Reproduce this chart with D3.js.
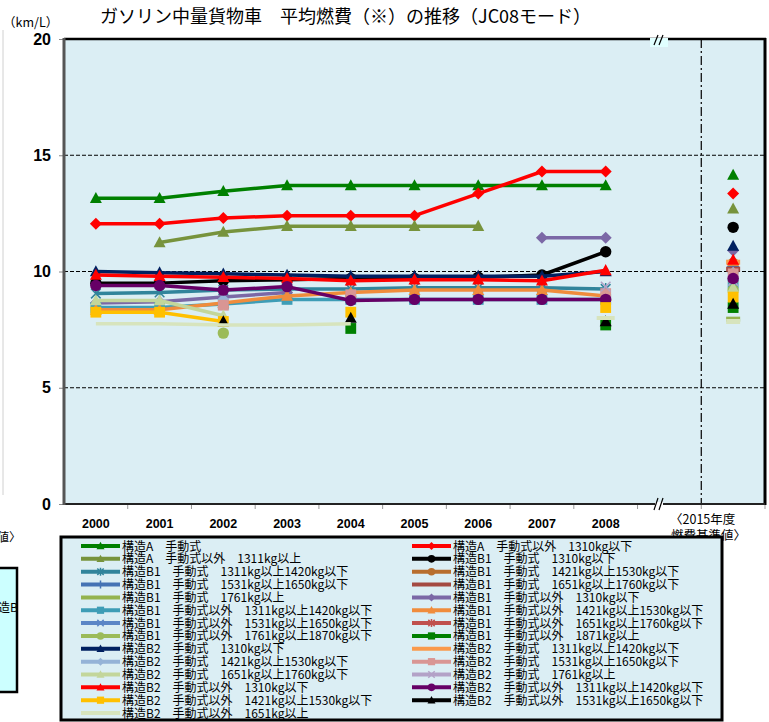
<!DOCTYPE html>
<html><head><meta charset="utf-8">
<script src="https://cdn.jsdelivr.net/npm/d3@7"></script>
<style>body{margin:0;background:#fff;}svg{display:block;}</style>
</head><body>
<svg id="c" width="769" height="722"></svg>
<script>
const years = ["2000","2001","2002","2003","2004","2005","2006","2007","2008"];
const stdLabel = "2015";
const yTicks = [0,5,10,15,20];
const names = [
"構造A　手動式","構造A　手動式以外　1310kg以下","構造A　手動式以外　1311kg以上",
"構造B1　手動式　1310kg以下","構造B1　手動式　1311kg以上1420kg以下","構造B1　手動式　1421kg以上1530kg以下",
"構造B1　手動式　1531kg以上1650kg以下","構造B1　手動式　1651kg以上1760kg以下","構造B1　手動式　1761kg以上",
"構造B1　手動式以外　1310kg以下","構造B1　手動式以外　1311kg以上1420kg以下","構造B1　手動式以外　1421kg以上1530kg以下",
"構造B1　手動式以外　1531kg以上1650kg以下","構造B1　手動式以外　1651kg以上1760kg以下","構造B1　手動式以外　1761kg以上1870kg以下",
"構造B1　手動式以外　1871kg以上","構造B2　手動式　1310kg以下","構造B2　手動式　1311kg以上1420kg以下",
"構造B2　手動式　1421kg以上1530kg以下","構造B2　手動式　1531kg以上1650kg以下","構造B2　手動式　1651kg以上1760kg以下",
"構造B2　手動式　1761kg以上","構造B2　手動式以外　1310kg以下","構造B2　手動式以外　1311kg以上1420kg以下",
"構造B2　手動式以外　1421kg以上1530kg以下","構造B2　手動式以外　1531kg以上1650kg以下","構造B2　手動式以外　1651kg以上"];
const colors = ["#008000","#FF0000","#77933C","#000000","#31849B","#B86E2E","#4573B4","#A44A42","#93B34F",
"#7B68A6","#3E9DB6","#F08C3C","#5B86C6","#C0504D","#9BBB59","#008000","#002060","#FA9A4C",
"#95B3D7","#D99694","#C3D69B","#B3A2C7","#FF0000","#660066","#FFC000","#000000","#D7E4BD"];
const markers = ["triangle","diamond","triangle","circle","asterisk","circle","plus","none","none",
"diamond","square","triangle","x","asterisk","circle","square","triangle","none",
"diamond","square","triangle","x","triangle","circle","square","triangle","none"];
const N = null;
const values = [
[13.15,13.15,13.45,13.7,13.7,13.7,13.7,13.7,13.7],
[12.05,12.05,12.3,12.4,12.4,12.4,13.35,14.3,14.3],
[N,11.25,11.7,11.95,11.95,11.95,11.95,N,N],
[9.5,9.5,9.6,9.65,9.7,9.7,9.75,9.85,10.85],
[9.05,9.1,9.2,9.25,9.25,9.3,9.3,9.3,9.25],
[N,N,N,N,N,N,N,N,N],
[N,N,N,N,N,N,N,N,N],
[N,N,N,N,N,N,N,N,N],
[N,N,N,N,N,N,N,N,N],
[8.65,8.7,8.9,9.1,N,N,N,11.45,11.45],
[8.45,8.45,8.6,8.8,8.8,8.8,8.8,8.8,8.8],
[8.35,8.35,8.65,8.95,9.1,9.2,9.2,9.2,8.95],
[N,N,N,N,N,N,N,N,N],
[N,N,N,N,N,N,N,N,N],
[N,N,7.35,N,N,N,N,N,N],
[N,N,N,N,7.55,N,N,N,7.7],
[10.0,9.95,9.9,9.85,9.8,9.8,9.8,9.8,10.0],
[N,N,N,N,N,N,N,N,N],
[N,N,8.8,N,N,N,N,N,N],
[N,N,8.55,N,9.0,N,N,N,9.05],
[8.75,8.75,8.1,N,N,N,N,N,N],
[N,N,N,N,N,N,N,N,9.35],
[9.85,9.8,9.75,9.7,9.6,9.65,9.65,9.6,10.05],
[9.4,9.4,9.2,9.35,8.75,8.8,8.8,8.8,8.8],
[8.25,8.25,7.85,N,8.25,N,N,N,8.45],
[N,N,7.85,N,8.0,N,N,N,7.85],
[7.75,7.75,7.7,7.7,7.75,N,N,N,8.0]];
const std2015 = [14.15,13.35,12.7,11.9,10.0,10.35,10.2,10.1,7.95,10.9,9.5,10.45,9.8,9.75,9.2,8.45,11.1,10.4,9.95,9.9,9.3,9.6,10.5,9.7,8.9,8.6,7.85];

const svg = d3.select("#c");
const L = 64, R = 765, T = 39, B = 504;
const cats = years.concat(["gap", stdLabel]);
const x = d3.scaleBand().domain(cats).range([L, R]);
const y = d3.scaleLinear().domain([0,20]).range([B, T]);
const JP = "'Noto Sans CJK JP','Noto Sans',sans-serif";

// left fragment of neighbouring chart
svg.append("line").attr("x1",3).attr("x2",3).attr("y1",30).attr("y2",495).attr("stroke","#d0d0d0").attr("stroke-width",1);
svg.append("text").attr("x",-3).attr("y",542).attr("font-family",JP).attr("font-size",12).text("値〉");
svg.append("rect").attr("x",-10).attr("y",568).attr("width",27).attr("height",124).attr("fill","#CCFFFF").attr("stroke","#000").attr("stroke-width",2.5);
svg.append("text").attr("x",-2).attr("y",612).attr("font-family",JP).attr("font-size",12).text("造B");

// plot background
svg.append("rect").attr("x",L).attr("y",T).attr("width",R-L).attr("height",B-T).attr("fill","#DBEEF4");

// gridlines
svg.append("g").selectAll("line").data([5,10,15]).join("line")
  .attr("x1",L).attr("x2",R).attr("y1",d=>y(d)).attr("y2",d=>y(d))
  .attr("stroke","#000").attr("stroke-width",1).attr("stroke-dasharray","4,2");

// dash-dot separator
svg.append("line").attr("x1",x(stdLabel)).attr("x2",x(stdLabel)).attr("y1",T).attr("y2",B)
  .attr("stroke","#000").attr("stroke-width",1.2).attr("stroke-dasharray","9,3,2,3");

// y axis
const yAxis = d3.axisLeft(y).tickValues(yTicks).tickSize(5).tickPadding(8);
const gy = svg.append("g").attr("transform",`translate(${L},0)`).call(yAxis);
gy.select(".domain").remove();
gy.selectAll(".tick line").attr("stroke","#888");
gy.selectAll("text").attr("font-family","'Liberation Sans',Arial,sans-serif").attr("font-weight","bold").attr("font-size",16).attr("fill","#000");

// x axis
const xAxis = d3.axisBottom(x).tickSize(0).tickPadding(15).tickFormat(d => years.includes(d) ? d : "");
const gx = svg.append("g").attr("transform",`translate(0,${B})`).call(xAxis);
gx.select(".domain").remove();
gx.selectAll("text").attr("font-family","'Liberation Sans',Arial,sans-serif").attr("font-weight","bold").attr("font-size",12.5).attr("fill","#000");
svg.append("g").selectAll("line").data(cats).join("line")
  .attr("x1",d=>x(d)+x.bandwidth()).attr("x2",d=>x(d)+x.bandwidth()).attr("y1",B).attr("y2",B+5)
  .attr("stroke","#999");
svg.append("text").attr("x",670).attr("y",524).attr("font-family",JP).attr("font-size",12.5).text("〈2015年度");
svg.append("text").attr("x",671).attr("y",540).attr("font-family",JP).attr("font-size",12.5).text("燃費基準値〉");

// marker helper
function drawMarker(g, type, cx, cy, color, s) {
  const h = s/2;
  if (type === "none") return;
  if (type === "triangle") g.append("path").attr("d",`M${cx},${cy-h*1.05}L${cx+h},${cy+h*0.8}L${cx-h},${cy+h*0.8}Z`).attr("fill",color);
  else if (type === "diamond") g.append("path").attr("d",`M${cx},${cy-h}L${cx+h},${cy}L${cx},${cy+h}L${cx-h},${cy}Z`).attr("fill",color);
  else if (type === "circle") g.append("circle").attr("cx",cx).attr("cy",cy).attr("r",h*0.95).attr("fill",color);
  else if (type === "square") g.append("rect").attr("x",cx-h*0.9).attr("y",cy-h*0.9).attr("width",h*1.8).attr("height",h*1.8).attr("fill",color);
  else {
    let d = "";
    const k = h*0.8;
    if (type === "x" || type === "asterisk") d += `M${cx-k},${cy-k}L${cx+k},${cy+k}M${cx-k},${cy+k}L${cx+k},${cy-k}`;
    if (type === "asterisk") d += `M${cx},${cy-h}L${cx},${cy+h}`;
    if (type === "plus") d += `M${cx-h},${cy}L${cx+h},${cy}M${cx},${cy-h}L${cx},${cy+h}`;
    g.append("path").attr("d",d).attr("stroke",color).attr("stroke-width",1.5).attr("fill","none");
  }
}

// series
const line = d3.line().defined(d => d.v !== null).x(d => x(d.c) + x.bandwidth()/2).y(d => y(d.v));
const gs = svg.append("g");
values.forEach((vals, i) => {
  const pts = years.map((c, j) => ({c, v: vals[j]}));
  const g = gs.append("g");
  g.append("path").datum(pts).attr("d", line).attr("fill","none").attr("stroke",colors[i]).attr("stroke-width",3.5).attr("stroke-linejoin","round");
  pts.filter(p => p.v !== null).forEach(p => {
    const cx = x(p.c) + x.bandwidth()/2, cy = y(p.v);
    if (markers[i] === "none") {
      const j = years.indexOf(p.c);
      const prev = j>0 ? vals[j-1] : null, next = j<vals.length-1 ? vals[j+1] : null;
      if (prev === null && next === null) g.append("rect").attr("x",cx-9).attr("y",cy-2).attr("width",18).attr("height",4).attr("fill",colors[i]);
    } else drawMarker(g, markers[i], cx, cy, colors[i], 12);
  });
});

// 2015 standard values
const gstd = svg.append("g");
std2015.forEach((v, i) => {
  const cx = x(stdLabel) + x.bandwidth()/2, cy = y(v);
  if (markers[i] === "none") gstd.append("rect").attr("x",cx-7).attr("y",cy-2.5).attr("width",14).attr("height",5).attr("fill",colors[i]);
  else drawMarker(gstd, markers[i], cx, cy, colors[i], 12);
});

// plot frame
svg.append("line").attr("x1",L).attr("x2",R+1).attr("y1",T).attr("y2",T).attr("stroke","#000").attr("stroke-width",2.5);
svg.append("line").attr("x1",R).attr("x2",R).attr("y1",T-1).attr("y2",B+1).attr("stroke","#000").attr("stroke-width",3);
svg.append("line").attr("x1",L).attr("x2",R).attr("y1",B).attr("y2",B).attr("stroke","#222").attr("stroke-width",2);
svg.append("line").attr("x1",L).attr("x2",L).attr("y1",T-1).attr("y2",B+1).attr("stroke","#555").attr("stroke-width",3);

// axis break marks
const bx = 660;
svg.append("rect").attr("x",bx-10).attr("y",T-1).attr("width",18).attr("height",9).attr("fill","#E0FFFF");
svg.append("path").attr("d",`M${bx-6},${T+6}L${bx-2},${T-4}M${bx-1},${T+6}L${bx+3},${T-4}`).attr("stroke","#000").attr("stroke-width",1.2);
svg.append("rect").attr("x",bx-5).attr("y",B-2).attr("width",8).attr("height",5).attr("fill","#fff");
svg.append("path").attr("d",`M${bx-6},${B+6}L${bx-2},${B-6}M${bx-1},${B+6}L${bx+3},${B-6}`).attr("stroke","#000").attr("stroke-width",1.2);

// titles
svg.append("text").attr("x",100).attr("y",23).attr("font-family",JP).attr("font-size",18).attr("fill","#000").text("ガソリン中量貨物車　平均燃費（※）の推移（JC08モード）");
svg.append("text").attr("x",3).attr("y",27).attr("font-family",JP).attr("font-size",12.5).attr("fill","#000").text("（km/L）");

// legend
const lg = svg.append("g");
lg.append("rect").attr("x",61).attr("y",537).attr("width",661).attr("height",183).attr("fill","#DBEEF4").attr("stroke","#000").attr("stroke-width",3);
names.forEach((n, i) => {
  const col = i % 2, row = Math.floor(i/2);
  const lx = col === 0 ? 81 : 412, ly = 546 + row*12.85;
  lg.append("line").attr("x1",lx).attr("x2",lx+39).attr("y1",ly).attr("y2",ly).attr("stroke",colors[i]).attr("stroke-width",4);
  drawMarker(lg, markers[i], lx+19.5, ly, colors[i], 8);
  lg.append("text").attr("x",lx+41).attr("y",ly+4.5).attr("font-family",JP).attr("font-size",12).attr("fill","#000").text(n);
});
</script>
</body></html>
